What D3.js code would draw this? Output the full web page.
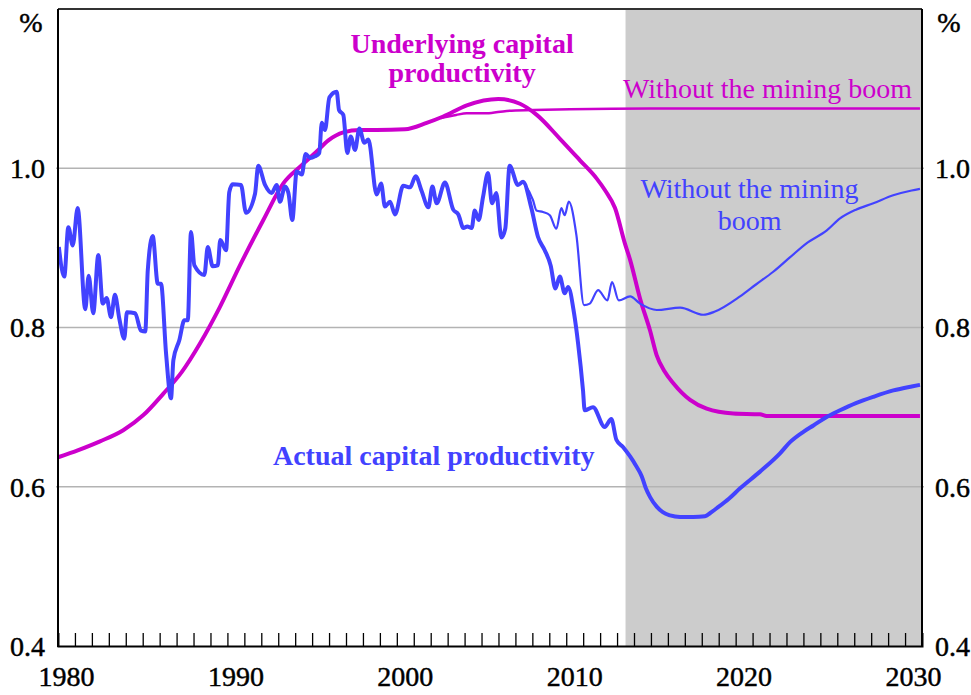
<!DOCTYPE html>
<html>
<head>
<meta charset="utf-8">
<script src="https://cdn.jsdelivr.net/npm/d3@7"></script>
<style>
  body { margin: 0; background: #fff; }
</style>
</head>
<body>
<svg id="chart"></svg>
<script>
// Capital productivity, ratio
var actual = [
  [1980.05, 0.901], [1980.37, 0.864], [1980.61, 0.926], [1980.87, 0.903], [1981.16, 0.950],
  [1981.61, 0.823], [1981.81, 0.865], [1982.08, 0.818], [1982.38, 0.891], [1982.64, 0.830],
  [1982.87, 0.837], [1983.13, 0.813], [1983.36, 0.841], [1983.62, 0.811], [1983.91, 0.786],
  [1984.07, 0.819], [1984.55, 0.818], [1984.90, 0.796], [1985.15, 0.795], [1985.30, 0.872],
  [1985.59, 0.915], [1985.89, 0.855], [1986.08, 0.855], [1986.38, 0.767], [1986.67, 0.711],
  [1986.81, 0.759], [1987.16, 0.784], [1987.46, 0.809], [1987.66, 0.809], [1987.85, 0.920],
  [1988.05, 0.878], [1988.64, 0.866], [1988.84, 0.901], [1989.13, 0.877], [1989.43, 0.878],
  [1989.58, 0.910], [1989.92, 0.897], [1990.11, 0.970], [1990.31, 0.980], [1990.80, 0.979],
  [1991.10, 0.944], [1991.63, 0.968], [1991.82, 1.003], [1992.22, 0.979], [1992.61, 0.969],
  [1992.91, 0.979], [1993.10, 0.958], [1993.40, 0.977], [1993.60, 0.969], [1993.83, 0.935],
  [1994.09, 0.996], [1994.39, 0.992], [1994.62, 1.018], [1994.88, 1.013], [1995.17, 1.015],
  [1995.42, 1.019], [1995.57, 1.057], [1995.76, 1.048], [1996.02, 1.089], [1996.45, 1.096],
  [1996.59, 1.073], [1996.84, 1.067], [1997.08, 1.019], [1997.28, 1.040], [1997.53, 1.023],
  [1997.79, 1.050], [1998.08, 1.032], [1998.32, 1.036], [1998.81, 0.967], [1999.07, 0.981],
  [1999.30, 0.952], [1999.60, 0.958], [1999.89, 0.942], [2000.38, 0.978], [2000.78, 0.976],
  [2001.11, 0.990], [2001.47, 0.971], [2001.86, 0.951], [2002.10, 0.977], [2002.35, 0.956],
  [2002.84, 0.982], [2003.33, 0.948], [2003.63, 0.942], [2003.93, 0.925], [2004.16, 0.927],
  [2004.42, 0.925], [2004.60, 0.947], [2004.83, 0.935], [2005.09, 0.964], [2005.38, 0.994],
  [2005.62, 0.956], [2005.87, 0.969], [2006.17, 0.913], [2006.40, 0.924], [2006.66, 1.003],
  [2007.15, 0.979], [2007.45, 0.983], [2007.94, 0.950], [2008.33, 0.914], [2008.73, 0.897],
  [2009.08, 0.878], [2009.36, 0.849], [2009.62, 0.864], [2009.91, 0.843], [2010.11, 0.851],
  [2010.46, 0.818], [2010.70, 0.780], [2010.99, 0.721], [2011.09, 0.696], [2011.58, 0.700],
  [2012.27, 0.675], [2012.66, 0.685], [2012.96, 0.659], [2013.35, 0.650], [2013.77, 0.638],
  [2014.10, 0.627], [2014.46, 0.613], [2014.70, 0.598], [2014.95, 0.587], [2015.34, 0.575],
  [2015.70, 0.568], [2016.13, 0.564], [2016.72, 0.562], [2017.50, 0.562], [2018.19, 0.563],
  [2018.50, 0.567], [2018.88, 0.573], [2019.60, 0.585], [2020.26, 0.598], [2021.44, 0.619],
  [2022.62, 0.642], [2023.21, 0.656], [2024.00, 0.669], [2024.59, 0.677], [2025.40, 0.688],
  [2026.16, 0.696], [2027.10, 0.705], [2028.13, 0.713], [2029.31, 0.721], [2030.39, 0.726],
  [2030.88, 0.728]
];

var actualNoBoom = [
  [2007.45, 0.983], [2008.04, 0.960], [2008.24, 0.947], [2008.63, 0.945], [2009.03, 0.941],
  [2009.42, 0.924], [2009.71, 0.950], [2009.91, 0.941], [2010.15, 0.958], [2010.60, 0.916],
  [2011.05, 0.828], [2011.39, 0.830], [2011.88, 0.847], [2012.43, 0.834], [2012.70, 0.857],
  [2013.10, 0.834], [2013.77, 0.839], [2014.36, 0.830], [2015.34, 0.822], [2016.72, 0.825],
  [2018.09, 0.816], [2018.78, 0.820], [2020.26, 0.839], [2021.20, 0.854], [2022.22, 0.870],
  [2023.20, 0.888], [2024.20, 0.906], [2025.38, 0.922], [2026.16, 0.937], [2027.10, 0.948],
  [2028.13, 0.956], [2029.30, 0.966], [2030.39, 0.972], [2030.88, 0.974]
];

var underlying = [
  [1980.00, 0.637], [1981.20, 0.646], [1982.48, 0.657], [1983.85, 0.671], [1985.04, 0.690],
  [1986.22, 0.717], [1987.30, 0.744], [1988.38, 0.780], [1989.56, 0.826], [1990.74, 0.878],
  [1992.12, 0.935], [1993.30, 0.981], [1994.29, 1.002], [1995.27, 1.021], [1995.96, 1.035],
  [1996.84, 1.045], [1997.83, 1.048], [1998.81, 1.048], [2000.48, 1.049], [2001.76, 1.057],
  [2002.74, 1.065], [2004.13, 1.079], [2005.99, 1.087], [2007.27, 1.081], [2008.26, 1.067],
  [2009.63, 1.037], [2010.81, 1.010], [2011.80, 0.987], [2012.30, 0.972], [2012.88, 0.950],
  [2013.47, 0.905], [2013.77, 0.885], [2014.36, 0.836], [2014.95, 0.796], [2015.34, 0.765],
  [2015.80, 0.745], [2016.32, 0.730], [2017.31, 0.709], [2018.29, 0.698], [2019.86, 0.692],
  [2021.44, 0.691], [2021.83, 0.689], [2030.88, 0.689]
];

var underlyingNoBoom = [
  [2002.60, 1.063], [2003.50, 1.067], [2004.13, 1.069], [2005.31, 1.069], [2006.49, 1.072],
  [2008.06, 1.073], [2010.22, 1.074], [2014.95, 1.075], [2030.88, 1.075]
];

var projectionStart = 2013.5;
var yTicks = [0.4, 0.6, 0.8, 1.0];
var gridValues = [0.6, 0.8, 1.0];
var yearLabels = [1980, 1990, 2000, 2010, 2020, 2030];

var width = 971, height = 695;
var margin = {left: 58, right: 49, top: 9, bottom: 49};
var magenta = "#cc00cc", blue = "#4242ff";
var font = "'Liberation Serif', 'Times New Roman', serif";

var svg = d3.select("#chart")
            .attr("width", width)
            .attr("height", height)
            .attr("font-family", font);

var x = d3.scaleLinear()
          .domain([1980, 2031])
          .range([margin.left, width - margin.right]);

var y = d3.scaleLinear()
          .domain([0.4, 1.2])
          .range([height - margin.bottom, margin.top]);

// Shaded projection period
svg.append("rect")
   .attr("x", x(projectionStart))
   .attr("y", y(1.2))
   .attr("width", x(2031) - x(projectionStart))
   .attr("height", y(0.4) - y(1.2))
   .attr("fill", "#cccccc");

// Horizontal gridlines
svg.selectAll(".grid")
   .data(gridValues)
   .enter()
   .append("line")
     .classed("grid", true)
     .attr("x1", x(1980) - 2)
     .attr("x2", x(2031) + 2)
     .attr("y1", d => y(d))
     .attr("y2", d => y(d))
     .attr("stroke", "#b3b3b3")
     .attr("stroke-width", 1.5);

// Series lines
var line = d3.line()
             .curve(d3.curveMonotoneX)
             .x(d => x(d[0]))
             .y(d => y(d[1]));

var series = [
  {data: underlyingNoBoom, color: magenta, w: 2.5},
  {data: underlying, color: magenta, w: 4},
  {data: actualNoBoom, color: blue, w: 2.2},
  {data: actual, color: blue, w: 4}
];

svg.selectAll(".series")
   .data(series)
   .enter()
   .append("path")
     .classed("series", true)
     .attr("fill", "none")
     .attr("stroke", d => d.color)
     .attr("stroke-width", d => d.w)
     .attr("stroke-linejoin", "round")
     .attr("d", d => line(d.data));

// Frame: top border, left/right axes and bottom axis
svg.append("line")
   .attr("x1", x(1980)).attr("x2", x(2031))
   .attr("y1", y(1.2)).attr("y2", y(1.2))
   .attr("stroke", "#333").attr("stroke-width", 2);

var xAxis = d3.axisBottom(x)
              .tickValues(d3.range(1981, 2031))
              .tickSize(-13)
              .tickFormat("");

var gx = svg.append("g")
            .attr("transform", "translate(0," + y(0.4) + ")")
            .call(xAxis);
gx.select(".domain").attr("stroke", "#000").attr("stroke-width", 2);
gx.selectAll(".tick line").attr("stroke", "#000").attr("stroke-width", 1.3);

[1980, 2031].forEach(function(yr) {
  svg.append("line")
     .attr("x1", x(yr)).attr("x2", x(yr))
     .attr("y1", y(1.2)).attr("y2", y(0.4) + 1)
     .attr("stroke", "#000").attr("stroke-width", 2);
});

// Axis text is a touch heavier than the notes
function axisText(sel) {
  sel.attr("font-family", font)
     .attr("font-size", 28)
     .attr("fill", "#000")
     .attr("stroke", "#000")
     .attr("stroke-width", 0.45);
}

// Year labels sit in the middle of each year
svg.selectAll(".xlabel")
   .data(yearLabels)
   .enter()
   .append("text")
     .classed("xlabel", true)
     .attr("x", d => x(d + 0.5))
     .attr("y", y(0.4) + 40)
     .style("text-anchor", "middle")
     .call(axisText)
     .text(d => d);

// Y labels on both sides
svg.selectAll(".ylabelL")
   .data(yTicks)
   .enter()
   .append("text")
     .classed("ylabelL", true)
     .attr("x", x(1980) - 13)
     .attr("y", d => y(d))
     .attr("dy", "0.35em")
     .style("text-anchor", "end")
     .call(axisText)
     .text(d => d3.format(".1f")(d));

svg.selectAll(".ylabelR")
   .data(yTicks)
   .enter()
   .append("text")
     .classed("ylabelR", true)
     .attr("x", x(2031) + 13)
     .attr("y", d => y(d))
     .attr("dy", "0.35em")
     .style("text-anchor", "start")
     .call(axisText)
     .text(d => d3.format(".1f")(d));

[x(1980) - 27, x(2031) + 27].forEach(function(px) {
  svg.append("text")
     .attr("x", px).attr("y", y(1.2) + 23)
     .style("text-anchor", "middle")
     .call(axisText)
     .text("%");
});

// Series annotations
function note(lines, xv, yv, color, bold, anchor, lh) {
  var t = svg.append("text")
             .attr("font-family", font)
             .attr("font-size", 28)
             .attr("fill", color)
             .attr("font-weight", bold ? "bold" : "normal")
             .style("text-anchor", anchor);
  lines.forEach(function(s, i) {
    t.append("tspan")
     .attr("x", x(xv))
     .attr("y", y(yv) + i * lh)
     .text(s);
  });
}

note(["Underlying capital", "productivity"], 2003.85, 1.1445, magenta, true, "middle", 29);
note(["Without the mining boom"], 2030.41, 1.088, magenta, false, "end", 0);
note(["Without the mining", "boom"], 2020.82, 0.9625, blue, false, "middle", 32);
note(["Actual capital productivity"], 1992.69, 0.627, blue, true, "start", 0);
</script>
</body>
</html>
